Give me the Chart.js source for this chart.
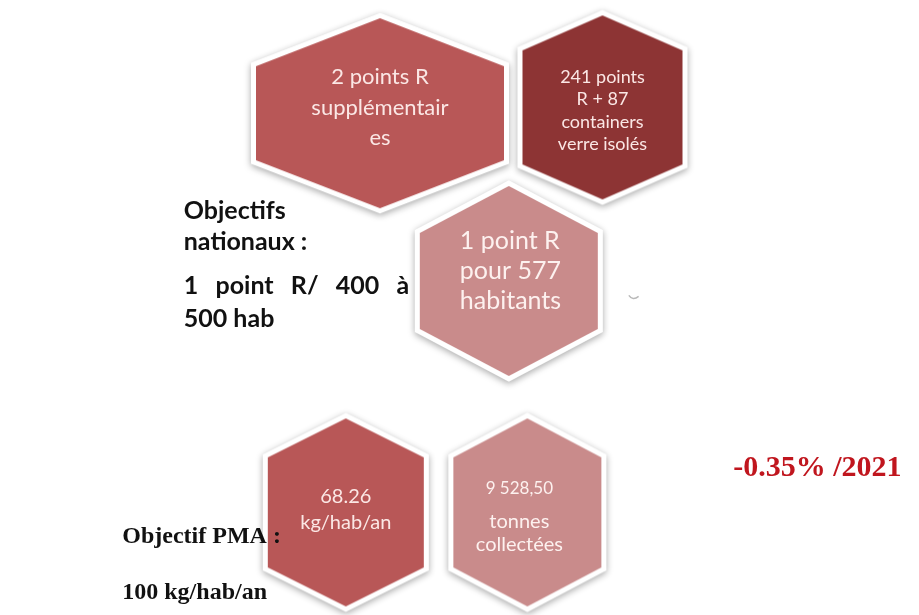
<!DOCTYPE html>
<html>
<head>
<meta charset="utf-8">
<script src="https://cdn.jsdelivr.net/npm/chart.js@4.4.0/dist/chart.umd.min.js"></script>
<style>
    html, body { margin: 0; padding: 0; background: #fff; }
    #wrap { width: 919px; height: 615px; position: relative; }
</style>
</head>
<body>
<div id="wrap"><canvas id="chart"></canvas></div>
<script>
// hexagon tiles (one scatter point each)
const tileLabels = [
    ['2 points R', 'supplémentair', 'es'],
    ['241 points', 'R + 87', 'containers', 'verre isolés'],
    ['1 point R', 'pour 577', 'habitants'],
    ['68.26', 'kg/hab/an'],
    ['9 528,50', 'tonnes', 'collectées']
];
const tileX = [378, 606, 510, 343, 529];
const tileY = [106, 100, 280, 520, 520];

// side notes
const nationalGoal = ['Objectifs', 'nationaux :', '1 point R/ 400 à', '500 hab'];
const pmaGoal = ['Objectif PMA :', '100 kg/hab/an'];
const trendNote = '-0.35% /2021';

// looks, kept apart from the values
const tones = { mid: '#b85757', dark: '#8d3434', light: '#c98b8b' };
const tileStyle = [
    { tone: 'mid',   hw: 124, hh: 95, side: 47, sizes: [22, 22, 22],     rows: [-36, -5, 25] },
    { tone: 'dark',  hw: 80,  hh: 92, side: 57, sizes: [18, 18, 18, 18], rows: [-30, -8, 15, 37] },
    { tone: 'light', hw: 89,  hh: 95, side: 48, sizes: [25, 25, 25],     rows: [-40, -10, 20], left: -49 },
    { tone: 'mid',   hw: 78,  hh: 94, side: 55, sizes: [20, 20],         rows: [-16, 10] },
    { tone: 'light', hw: 74,  hh: 94, side: 55, sizes: [17, 20, 20],     rows: [-24, 9, 32], shift: -8 }
];
const sans = 'Lato, "Open Sans", sans-serif';
const serif = '"Liberation Serif", "DejaVu Serif", serif';

function hexImage(st) {
    const pad = 14;
    const c = document.createElement('canvas');
    c.width = st.hw * 2 + pad * 2;
    c.height = st.hh * 2 + pad * 2;
    const ctx = c.getContext('2d');
    const cx = c.width / 2, cy = c.height / 2;
    ctx.beginPath();
    ctx.moveTo(cx, cy - st.hh);
    ctx.lineTo(cx + st.hw, cy - st.side);
    ctx.lineTo(cx + st.hw, cy + st.side);
    ctx.lineTo(cx, cy + st.hh);
    ctx.lineTo(cx - st.hw, cy + st.side);
    ctx.lineTo(cx - st.hw, cy - st.side);
    ctx.closePath();
    // white rim with soft shadow
    ctx.save();
    ctx.shadowColor = 'rgba(0,0,0,0.35)';
    ctx.shadowBlur = 7;
    ctx.shadowOffsetY = 2;
    ctx.lineJoin = 'miter';
    ctx.lineWidth = 10;
    ctx.strokeStyle = '#ffffff';
    ctx.stroke();
    ctx.restore();
    ctx.fillStyle = tones[st.tone];
    ctx.fill();
    return c;
}

const textPlugin = {
    id: 'tileText',
    afterDatasetsDraw(chart) {
        const ctx = chart.ctx;
        const meta = chart.getDatasetMeta(0);
        ctx.save();
        ctx.textBaseline = 'middle';
        meta.data.forEach((pt, i) => {
            const st = tileStyle[i];
            ctx.fillStyle = st.tone === 'light' ? '#fdf1ef' : '#fbe7e5';
            tileLabels[i].forEach((line, k) => {
                ctx.font = st.sizes[k] + 'px ' + sans;
                const yy = pt.y + st.rows[k];
                if (st.left !== undefined) {
                    ctx.textAlign = 'left';
                    ctx.fillText(line, pt.x + st.left, yy);
                } else {
                    ctx.textAlign = 'center';
                    ctx.fillText(line, pt.x + (st.shift || 0), yy);
                }
            });
        });

        const sx = v => chart.scales.x.getPixelForValue(v);
        const sy = v => chart.scales.y.getPixelForValue(v);

        // national goal, bold sans, third line justified
        ctx.fillStyle = '#111111';
        ctx.textAlign = 'left';
        ctx.font = 'bold 25px ' + sans;
        ctx.fillText(nationalGoal[0], sx(177), sy(207));
        ctx.fillText(nationalGoal[1], sx(177), sy(240));
        const words = nationalGoal[2].split(' ');
        const widths = words.map(w => ctx.measureText(w).width);
        const gap = (sx(408) - sx(177) - widths.reduce((a, b) => a + b, 0)) / (words.length - 1);
        let wx = sx(177);
        words.forEach((w, k) => {
            ctx.fillText(w, wx, sy(285));
            wx += widths[k] + gap;
        });
        ctx.fillText(nationalGoal[3], sx(177), sy(319));

        // PMA goal, bold serif
        ctx.font = 'bold 24px ' + serif;
        ctx.fillText(pmaGoal[0], sx(114), sy(545));
        ctx.fillText(pmaGoal[1], sx(114), sy(603));

        ctx.fillStyle = '#c0161e';
        ctx.font = 'bold 30px ' + serif;
        ctx.fillText(trendNote, sx(740), sy(474));

        // small grey tick beside the third tile
        ctx.strokeStyle = '#b9b9b9';
        ctx.lineWidth = 1.5;
        ctx.beginPath();
        ctx.moveTo(sx(633), sy(295));
        ctx.quadraticCurveTo(sx(637), sy(301), sx(643), sy(296));
        ctx.stroke();
        ctx.restore();
    }
};

function build() {
    new Chart(document.getElementById('chart'), {
        type: 'scatter',
        data: {
            datasets: [{
                data: tileX.map((x, i) => ({ x: x, y: tileY[i] })),
                pointStyle: tileStyle.map(hexImage),
                pointRadius: 10,
                clip: false
            }]
        },
        options: {
            responsive: true,
            maintainAspectRatio: false,
            animation: false,
            events: [],
            layout: { padding: 0 },
            plugins: { legend: { display: false }, tooltip: { enabled: false } },
            scales: {
                x: { type: 'linear', min: 0, max: 919, display: false },
                y: { type: 'linear', min: 0, max: 615, reverse: true, display: false }
            }
        },
        plugins: [textPlugin]
    });
}

document.fonts.load('23px Lato').then(() => document.fonts.load('bold 25px Lato')).then(build, build);
</script>
</body>
</html>
